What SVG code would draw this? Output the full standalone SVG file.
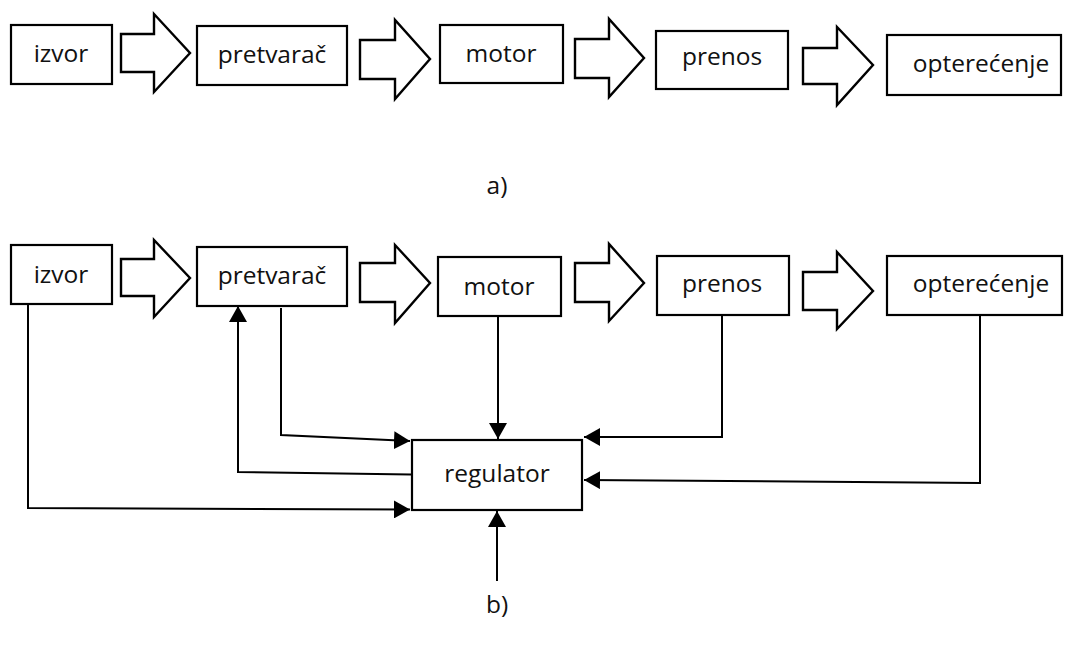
<svg xmlns="http://www.w3.org/2000/svg" width="1066" height="657" viewBox="0 0 1066 657">
  <style>
    .box { fill: #fff; stroke: #000; stroke-width: 2.2; }
    .big { fill: #fff; stroke: #000; stroke-width: 2.4; stroke-linejoin: miter; }
    .lbl { font-family: "Open Sans", "Noto Sans", sans-serif; font-size: 24.5px; fill: #111; text-anchor: middle; }
    .wire { fill: none; stroke: #000; stroke-width: 2; marker-end: url(#tip); }
  </style>
  <defs>
    <marker id="tip" markerUnits="userSpaceOnUse" markerWidth="16" markerHeight="18" refX="16" refY="9" orient="auto">
      <path d="M0,0 L16,9 L0,18 Z" fill="#000"/>
    </marker>
  </defs>
  <rect width="1066" height="657" fill="#fff"/>

  <!-- a) open chain -->
  <g id="a-izvor"><rect class="box" x="11" y="25" width="101" height="59"/><text class="lbl" x="61" y="62">izvor</text></g>
  <g id="a-flow1"><polygon class="big" points="121,34 154,34 154,14 190,53 154,92 154,72 121,72"/></g>
  <g id="a-pretvarac"><rect class="box" x="197" y="26" width="150" height="59"/><text class="lbl" x="272" y="63">pretvarač</text></g>
  <g id="a-flow2"><polygon class="big" points="360,40 395,40 395,20 430,59 395,99 395,79 360,79"/></g>
  <g id="a-motor"><rect class="box" x="440" y="25" width="123" height="58"/><text class="lbl" x="501" y="62">motor</text></g>
  <g id="a-flow3"><polygon class="big" points="575,39 609,39 609,19 644,58 609,97 609,78 575,78"/></g>
  <g id="a-prenos"><rect class="box" x="656" y="31" width="132" height="58"/><text class="lbl" x="722" y="65">prenos</text></g>
  <g id="a-flow4"><polygon class="big" points="803,48 837,48 837,27 873,65 837,105 837,84 803,84"/></g>
  <g id="a-opterecenje"><rect class="box" x="887" y="35" width="174" height="60"/><text class="lbl" x="981" y="72">opterećenje</text></g>
  <text class="lbl" x="497" y="194">a)</text>

  <!-- b) closed loop with regulator -->
  <g id="b-izvor"><rect class="box" x="11" y="245" width="101" height="59"/><text class="lbl" x="61" y="283">izvor</text></g>
  <g id="b-flow1"><polygon class="big" points="121,259 154,259 154,240 190,278 154,317 154,296 121,296"/></g>
  <g id="b-pretvarac"><rect class="box" x="197" y="247" width="150" height="59"/><text class="lbl" x="272" y="284">pretvarač</text></g>
  <g id="b-flow2"><polygon class="big" points="360,263 395,263 395,245 430,283 395,323 395,302 360,302"/></g>
  <g id="b-motor"><rect class="box" x="438" y="257" width="123" height="59"/><text class="lbl" x="499" y="295">motor</text></g>
  <g id="b-flow3"><polygon class="big" points="575,263 609,263 609,244 644,283 609,321 609,302 575,302"/></g>
  <g id="b-prenos"><rect class="box" x="657" y="256" width="132" height="59"/><text class="lbl" x="722" y="292">prenos</text></g>
  <g id="b-flow4"><polygon class="big" points="803,272 837,272 837,252 873,291 837,329 837,310 803,310"/></g>
  <g id="b-opterecenje"><rect class="box" x="887" y="256" width="175" height="59"/><text class="lbl" x="981" y="292">opterećenje</text></g>
  <g id="b-regulator"><rect class="box" x="412" y="440" width="170" height="70"/><text class="lbl" x="497" y="482">regulator</text></g>

  <g id="connectors">
    <path class="wire" d="M28,304 V508 L410,509.5"/>
    <path class="wire" d="M281,308 V435 L410,441"/>
    <path class="wire" d="M411,474.5 L238,472 V306"/>
    <path class="wire" d="M498,316 V439"/>
    <path class="wire" d="M722,315 V437 H584"/>
    <path class="wire" d="M980,315 V483 L584,480"/>
    <path class="wire" d="M497,581 V511"/>
  </g>
  <text class="lbl" x="497" y="613">b)</text>
</svg>
